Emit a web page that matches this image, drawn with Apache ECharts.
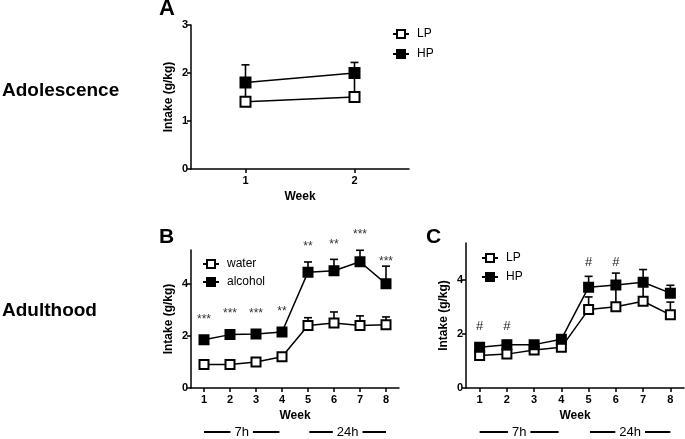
<!DOCTYPE html>
<html>
<head>
<meta charset="utf-8">
<script src="https://cdn.jsdelivr.net/npm/echarts@6/dist/echarts.min.js"></script>
<style>
  html, body { margin: 0; padding: 0; background: #fff; }
  #chart { width: 685px; height: 439px; }
</style>
</head>
<body>
<div id="chart"></div>
<script>
// panel A - adolescence
var weeksA = [1, 2]
var lpA = [1.4, 1.5]
var lpATop = [1.8, 2.0]
var hpA = [1.8, 2.0]
var hpATop = [2.17, 2.22]

// panel B - water vs alcohol
var weeksB = [1, 2, 3, 4, 5, 6, 7, 8]
var waterB = [0.9, 0.9, 1.0, 1.2, 2.4, 2.5, 2.4, 2.43]
var waterBTop = [0.95, 0.95, 1.05, 1.3, 2.7, 2.92, 2.77, 2.73]
var alcoholB = [1.85, 2.05, 2.07, 2.15, 4.45, 4.5, 4.85, 4.0]
var alcoholBTop = [1.95, 2.15, 2.17, 2.3, 4.84, 4.94, 5.29, 4.68]
var starsB = ['***', '***', '***', '**', '**', '**', '***', '***']
var starsBY = [2.62, 2.84, 2.84, 2.94, 5.42, 5.5, 5.88, 4.87]

// panel C - LP vs HP adulthood
var lpC = [1.2, 1.25, 1.4, 1.5, 2.9, 3.0, 3.2, 2.7]
var lpCTop = [1.3, 1.35, 1.5, 1.6, 3.36, 3.7, 3.85, 3.17]
var hpC = [1.5, 1.6, 1.6, 1.8, 3.72, 3.8, 3.9, 3.5]
var hpCTop = [1.6, 1.75, 1.7, 1.9, 4.12, 4.24, 4.37, 3.79]
var hashWeeks = [1, 2, 5, 6]
var hashY = [2.28, 2.28, 4.65, 4.65]

// drinking periods under the x axis
var periodLabels = ['7h', '24h']
var periodFrom = [1, 5.05]
var periodTo = [3.9, 8]

var yTicksA = [0, 1, 2, 3]
var yTicksBC = [0, 2, 4]

var font = 'Liberation Sans, Arial, sans-serif'

function pairs(xs, ys) {
  return xs.map(function (x, i) { return [x, ys[i]] })
}
function triples(xs, ys, tops) {
  return xs.map(function (x, i) { return [x, ys[i], tops[i]] })
}

function errRender(params, api) {
  var p = api.coord([api.value(0), api.value(1)])
  var t = api.coord([api.value(0), api.value(2)])
  var st = { stroke: '#000', lineWidth: 1.6 }
  return {
    type: 'group',
    children: [
      { type: 'line', shape: { x1: p[0], y1: p[1], x2: t[0], y2: t[1] }, style: st },
      { type: 'line', shape: { x1: t[0] - 4, y1: t[1], x2: t[0] + 4, y2: t[1] }, style: st }
    ]
  }
}

// significance marks, text picked by data index
function textRender(labels, size, color) {
  return function (params, api) {
    var p = api.coord([api.value(0), api.value(1)])
    return {
      type: 'text',
      x: p[0], y: p[1],
      style: {
        text: labels[params.dataIndex],
        font: size + 'px ' + font,
        fill: color,
        align: 'center',
        verticalAlign: 'middle'
      }
    }
  }
}

function periodRender(params, api) {
  var a = api.coord([api.value(0), 0])
  var b = api.coord([api.value(1), 0])
  var y = a[1] + 44
  return {
    type: 'group',
    children: [
      { type: 'line', shape: { x1: a[0], y1: y, x2: b[0], y2: y }, style: { stroke: '#000', lineWidth: 2 } },
      {
        type: 'text', x: (a[0] + b[0]) / 2, y: y,
        style: {
          text: periodLabels[params.dataIndex], font: '13px ' + font, fill: '#000',
          align: 'center', verticalAlign: 'middle',
          backgroundColor: '#fff', padding: [0, 4]
        }
      }
    ]
  }
}

function xAxisOf(idx, min, max, ticks) {
  return {
    gridIndex: idx, type: 'value', min: min, max: max,
    name: 'Week', nameLocation: 'middle', nameGap: 22,
    nameTextStyle: { fontFamily: font, fontWeight: 'bold', fontSize: 12, color: '#000' },
    axisLine: { lineStyle: { color: '#000', width: 1.5 } },
    axisTick: { length: 4, lineStyle: { color: '#000', width: 1.5 }, customValues: ticks },
    axisLabel: { customValues: ticks, margin: 6, fontFamily: font, fontWeight: 'bold', fontSize: 11, color: '#000' },
    splitLine: { show: false }
  }
}
function yAxisOf(idx, max, ticks) {
  return {
    gridIndex: idx, type: 'value', min: 0, max: max,
    name: 'Intake (g/kg)', nameLocation: 'middle', nameGap: 16,
    nameTextStyle: { fontFamily: font, fontWeight: 'bold', fontSize: 12, color: '#000' },
    axisLine: { show: true, lineStyle: { color: '#000', width: 1.5 } },
    axisTick: { show: true, length: 4, lineStyle: { color: '#000', width: 1.5 }, customValues: ticks },
    axisLabel: { customValues: ticks, margin: 3, fontFamily: font, fontWeight: 'bold', fontSize: 11, color: '#000' },
    splitLine: { show: false }
  }
}

function lineSeries(name, idx, data, filled) {
  return {
    name: name, type: 'line', xAxisIndex: idx, yAxisIndex: idx,
    data: data, symbol: 'rect', symbolSize: idx === 0 ? 10 : 9,
    lineStyle: { color: '#000', width: 1.5 },
    itemStyle: { color: filled ? '#000' : '#fff', borderColor: '#000', borderWidth: 2 },
    z: 5, animation: false
  }
}
function errSeries(idx, data) {
  return {
    type: 'custom', xAxisIndex: idx, yAxisIndex: idx, renderItem: errRender,
    data: data, encode: { x: 0, y: [1, 2] }, z: 3, silent: true, animation: false
  }
}

var chart = echarts.init(document.getElementById('chart'))

var legendBase = {
  orient: 'vertical', itemWidth: 16, itemHeight: 10, selectedMode: false, padding: 0,
  textStyle: { fontFamily: font, fontSize: 12, color: '#000', padding: [0, 0, 0, 3] }
}

var option = {
  backgroundColor: '#fff',
  animation: false,
  title: [
    { text: 'A', left: 159, top: -2, padding: 0, textStyle: { fontFamily: font, fontSize: 22, fontWeight: 'bold', color: '#000' } },
    { text: 'B', left: 159, top: 227, padding: 0, textStyle: { fontFamily: font, fontSize: 21, fontWeight: 'bold', color: '#000' } },
    { text: 'C', left: 426, top: 227, padding: 0, textStyle: { fontFamily: font, fontSize: 21, fontWeight: 'bold', color: '#000' } },
    { text: 'Adolescence', left: 2, top: 81, padding: 0, textStyle: { fontFamily: font, fontSize: 19, fontWeight: 'bold', color: '#000' } },
    { text: 'Adulthood', left: 2, top: 301, padding: 0, textStyle: { fontFamily: font, fontSize: 19, fontWeight: 'bold', color: '#000' } }
  ],
  legend: [
    Object.assign({}, legendBase, { data: ['LP', 'HP'], left: 392, top: 28, itemGap: 8 }),
    Object.assign({}, legendBase, { data: ['water', 'alcohol'], left: 202, top: 258, itemGap: 6 }),
    Object.assign({}, legendBase, { data: ['LP ', 'HP '], left: 481, top: 252, itemGap: 7 })
  ],
  grid: [
    { left: 191, top: 25, width: 218, height: 144 },
    { left: 191, top: 250, width: 208, height: 138 },
    { left: 466, top: 243, width: 218, height: 145 }
  ],
  xAxis: [
    xAxisOf(0, 0.5, 2.5, weeksA),
    xAxisOf(1, 0.5, 8.5, weeksB),
    xAxisOf(2, 0.5, 8.5, weeksB)
  ],
  yAxis: [
    yAxisOf(0, 3, yTicksA),
    yAxisOf(1, 5.3, yTicksBC),
    yAxisOf(2, 5.35, yTicksBC)
  ],
  series: [
    errSeries(0, triples(weeksA, lpA, lpATop)),
    errSeries(0, triples(weeksA, hpA, hpATop)),
    lineSeries('LP', 0, pairs(weeksA, lpA), false),
    lineSeries('HP', 0, pairs(weeksA, hpA), true),

    errSeries(1, triples(weeksB, waterB, waterBTop)),
    errSeries(1, triples(weeksB, alcoholB, alcoholBTop)),
    lineSeries('water', 1, pairs(weeksB, waterB), false),
    lineSeries('alcohol', 1, pairs(weeksB, alcoholB), true),
    {
      type: 'custom', xAxisIndex: 1, yAxisIndex: 1, renderItem: textRender(starsB, 12, '#333'),
      data: pairs(weeksB, starsBY),
      encode: { x: 0, y: 1 }, silent: true, animation: false
    },
    {
      type: 'custom', xAxisIndex: 1, yAxisIndex: 1, renderItem: periodRender,
      data: pairs(periodFrom, periodTo),
      encode: { x: [0, 1] }, silent: true, animation: false
    },

    errSeries(2, triples(weeksB, lpC, lpCTop)),
    errSeries(2, triples(weeksB, hpC, hpCTop)),
    lineSeries('LP ', 2, pairs(weeksB, lpC), false),
    lineSeries('HP ', 2, pairs(weeksB, hpC), true),
    {
      type: 'custom', xAxisIndex: 2, yAxisIndex: 2,
      renderItem: textRender(hashWeeks.map(function () { return '#' }), 13, '#222'),
      data: pairs(hashWeeks, hashY),
      encode: { x: 0, y: 1 }, silent: true, animation: false
    },
    {
      type: 'custom', xAxisIndex: 2, yAxisIndex: 2, renderItem: periodRender,
      data: pairs(periodFrom, periodTo),
      encode: { x: [0, 1] }, silent: true, animation: false
    }
  ]
}
chart.setOption(option)
</script>
</body>
</html>
